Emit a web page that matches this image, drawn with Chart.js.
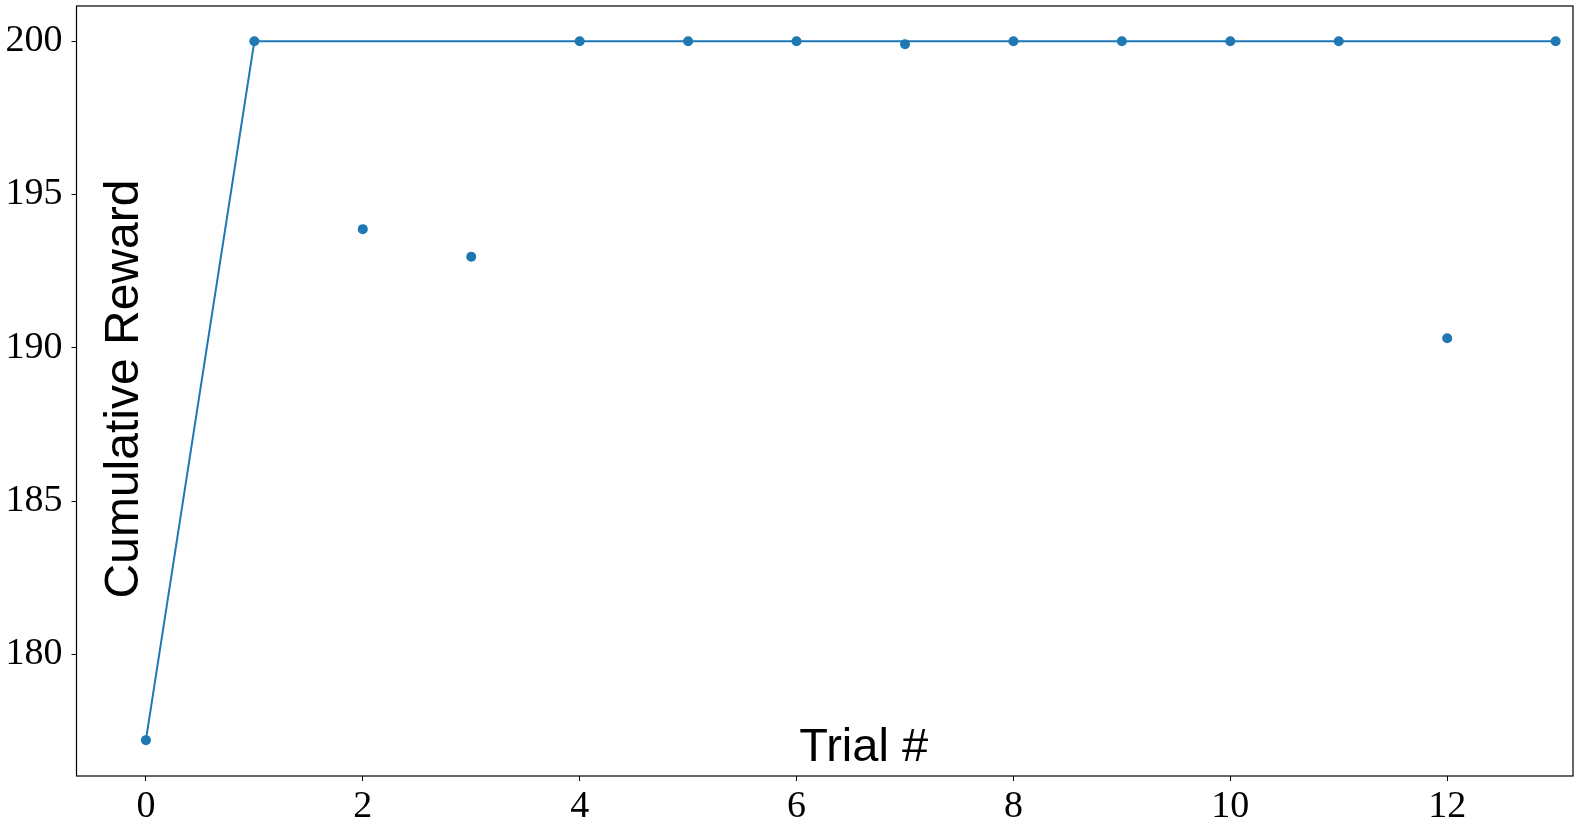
<!DOCTYPE html>
<html>
<head>
<meta charset="utf-8">
<script src="https://cdn.jsdelivr.net/npm/chart.js@4"></script>
<style>
  html, body { margin: 0; padding: 0; background: #fff; }
  #wrap { width: 1578px; height: 828px; }
</style>
</head>
<body>
<div id="wrap"><canvas id="rewardChart" width="1578" height="828"></canvas></div>
<script>
// trial index and reward per trial
const trials = [0, 1, 2, 3, 4, 5, 6, 7, 8, 9, 10, 11, 12, 13];
const rewards = [177.2, 200, 193.87, 192.97, 200, 200, 200, 199.9, 200, 200, 200, 200, 190.31, 200];
// best reward so far (line)
const bestSoFar = [177.2, 200, 200, 200, 200, 200, 200, 200, 200, 200, 200, 200, 200, 200];

const yTicks = [180, 185, 190, 195, 200];
const xTicks = [0, 2, 4, 6, 8, 10, 12];

const blue = '#1f77b4';
const tickFont = { family: '"Liberation Serif", "DejaVu Serif", serif', size: 38 };

// frame + in-plot axis titles
const framePlugin = {
    id: 'frame',
    afterDatasetsDraw(chart) {
        const ctx = chart.ctx;
        const a = chart.chartArea;
        ctx.save();
        ctx.strokeStyle = '#000';
        ctx.lineWidth = 1.2;
        ctx.strokeRect(a.left, a.top, a.right - a.left, a.bottom - a.top);

        ctx.fillStyle = '#000';
        ctx.font = '47px "Liberation Sans", Arial, sans-serif';
        ctx.textAlign = 'center';
        ctx.textBaseline = 'alphabetic';
        ctx.fillText('Trial #', a.left + (a.right - a.left) * 0.526, a.bottom - 15);

        ctx.font = '48px "Liberation Sans", Arial, sans-serif';
        ctx.translate(a.left + 61.5, (a.top + a.bottom) / 2 - 2);
        ctx.rotate(-Math.PI / 2);
        ctx.fillText('Cumulative Reward', 0, 0);
        ctx.restore();
    }
};

new Chart(document.getElementById('rewardChart'), {
    type: 'scatter',
    data: {
        datasets: [
            {
                label: 'best',
                data: trials.map((t, i) => ({ x: t, y: bestSoFar[i] })),
                showLine: true,
                borderColor: blue,
                borderWidth: 2,
                pointRadius: 0,
                fill: false,
                order: 2
            },
            {
                label: 'reward',
                data: trials.map((t, i) => ({ x: t, y: rewards[i] })),
                backgroundColor: blue,
                borderColor: blue,
                pointRadius: 5,
                pointBorderWidth: 0,
                order: 1
            }
        ]
    },
    options: {
        responsive: false,
        animation: false,
        layout: { padding: { left: 0, top: 6, right: 4, bottom: 0 } },
        plugins: {
            legend: { display: false },
            tooltip: { enabled: false }
        },
        scales: {
            x: {
                type: 'linear',
                min: -0.64,
                max: 13.16,
                afterBuildTicks: (scale) => { scale.ticks = xTicks.map(v => ({ value: v })); },
                afterFit: (scale) => {
                    scale.height = 52;
                    scale.paddingLeft = 0;
                    scale.paddingRight = 0;
                },
                grid: { display: true, drawOnChartArea: false, drawTicks: true, tickLength: 5, color: '#000', lineWidth: 1 },
                border: { display: false },
                ticks: { color: '#000', font: tickFont, padding: 3, maxRotation: 0 }
            },
            y: {
                min: 176.03,
                max: 201.15,
                afterBuildTicks: (scale) => { scale.ticks = yTicks.map(v => ({ value: v })); },
                afterFit: (scale) => {
                    scale.width = 76.5;
                    scale.paddingTop = 0;
                    scale.paddingBottom = 0;
                },
                grid: { display: true, drawOnChartArea: false, drawTicks: true, tickLength: 5, color: '#000', lineWidth: 1 },
                border: { display: false },
                ticks: { color: '#000', font: tickFont, padding: 9 }
            }
        }
    },
    plugins: [framePlugin]
});
</script>
</body>
</html>
